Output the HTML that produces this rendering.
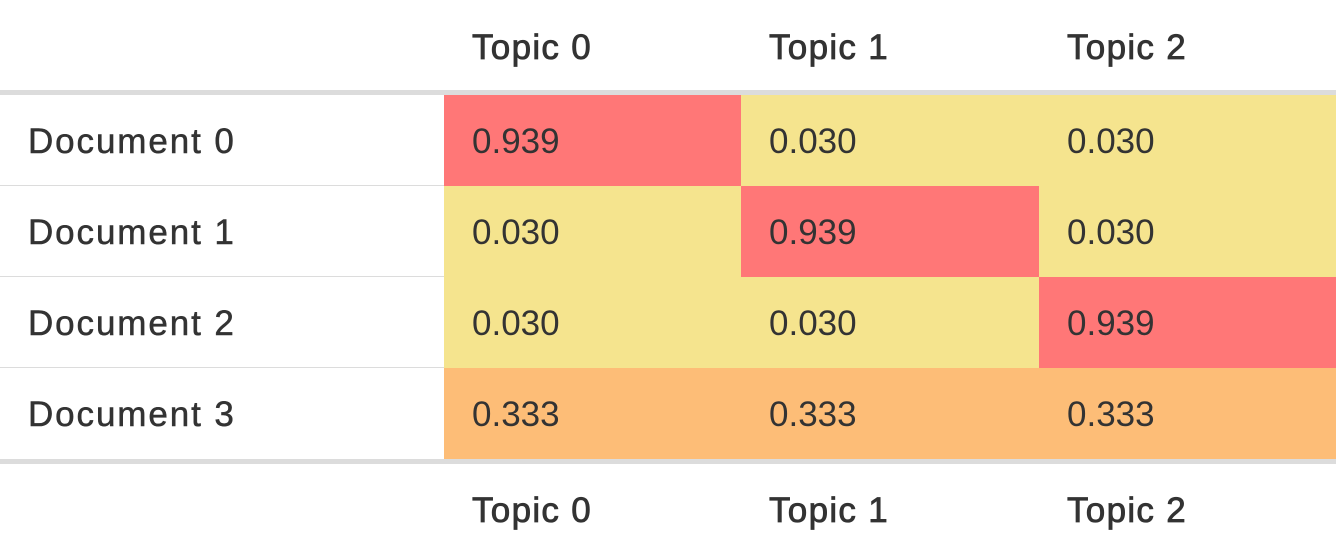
<!DOCTYPE html>
<html><head><meta charset="utf-8"><style>
html,body{margin:0;padding:0;background:#fff;}
#wrap{position:relative;width:1336px;height:553px;overflow:hidden;font-family:"Liberation Sans",sans-serif;font-size:35px;color:#333;}
.t{position:absolute;line-height:36px;white-space:nowrap;}
.lab{letter-spacing:1.9px;-webkit-text-stroke:0.5px #333;}
.hd{letter-spacing:1.3px;-webkit-text-stroke:0.8px #333;}
.c{position:absolute;}
.bar{position:absolute;left:0;width:1336px;background:#dcdcdc;}
.hl{position:absolute;left:0;width:444px;height:1px;background:#dcdcdc;}
</style></head><body>
<div id="wrap"></div>
<script>
const topics = ["Topic 0","Topic 1","Topic 2"];
const documents = ["Document 0","Document 1","Document 2","Document 3"];
const values = [
  [0.939,0.030,0.030],
  [0.030,0.939,0.030],
  [0.030,0.030,0.939],
  [0.333,0.333,0.333]
];
const colX = [444,741,1039,1336];
const rowY = [95,186,277,368,459];
function color(v){ if(v>0.6) return "#ff7777"; if(v>0.2) return "#fdbd77"; return "#f5e48e"; }
const W = document.getElementById('wrap');
function add(cls, style, text){ const e=document.createElement('div'); e.className=cls; e.style.cssText=style; if(text!=null) e.textContent=text; W.appendChild(e); return e; }
let b = add('bar','top:90px;height:5px;');


b = add('bar','top:459px;height:5px;');


for(let i=1;i<documents.length;i++){
  const l = add('hl','top:'+(rowY[i]-1)+'px;');
  
  
}
topics.forEach((t,j)=>{
  const h = add('t hd','left:'+(colX[j]+28)+'px;top:30px;',t);
  
  
  const f = add('t hd','left:'+(colX[j]+28)+'px;top:493px;',t);
  
  
});
documents.forEach((d,i)=>{
  const y0=rowY[i], y1=rowY[i+1];
  const l = add('t lab','left:28px;top:'+((y0+y1)/2-17)+'px;',d);
  
  
  values[i].forEach((v,j)=>{
    const c = add('c','left:'+colX[j]+'px;top:'+y0+'px;width:'+(colX[j+1]-colX[j])+'px;height:'+(y1-y0)+'px;background:'+color(v)+';');
    
    
    const tx = add('t','left:'+(colX[j]+28)+'px;top:'+((y0+y1)/2-17)+'px;',v.toFixed(3));
    
    
  });
});
</script>
</body></html>
